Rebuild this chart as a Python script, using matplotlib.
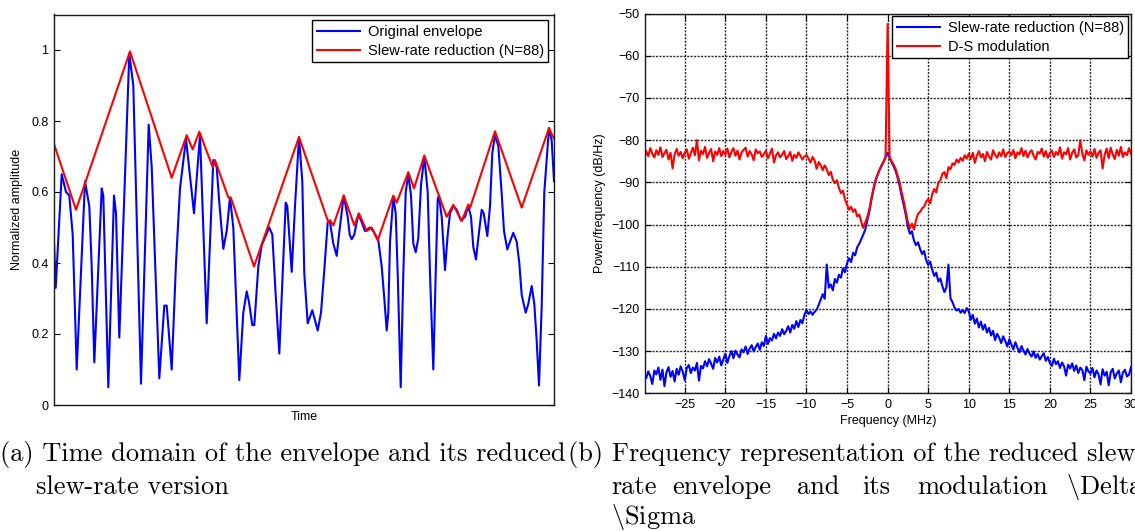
import numpy as np
import matplotlib.pyplot as plt

plt.rcParams['font.family'] = ['Liberation Sans', 'DejaVu Sans']
plt.rcParams['mathtext.fontset'] = 'cm'

# (a) time domain: original envelope and its slew-rate limited version
t_env = [0, 1.7, 7.7, 12, 15.3, 18.7, 22.7, 31, 35.3, 37.7, 40.3, 47.7, 49.3, 54.3,
         60, 62, 65.3, 75.3, 79.3, 87, 94.7, 97.7, 105.3, 110.3, 112.7, 117.7, 122,
         126, 132, 140, 146, 152.7, 159.3, 162.7, 165, 169.3, 172.7, 176, 179.3,
         185.3, 189.3, 192.7, 195, 198.3, 200.3, 204.3, 207.7, 215.3, 218.3, 221.7,
         225.3, 228.7, 231.7, 233.3, 237.7, 241, 245, 248.3, 250.3, 253.7, 258.3,
         263.7, 267, 270.3, 273.7, 275.7, 279.3, 282.7, 285, 289.7, 293.7, 295.7,
         297.7, 300.3, 304.3, 307.7, 311, 316, 319.3, 324.3, 327.7, 330.3, 332.7,
         334.3, 336, 339.3, 341.7, 343.7, 346.7, 349.3, 351.7, 354.3, 357, 359.3,
         361.7, 364.3, 367, 370.3, 373.7, 376, 379.3, 381.7, 383.7, 385, 387.7, 391,
         393.7, 396, 399.3, 402.7, 407, 411, 414.3, 417, 419.3, 422, 424.3, 427.7,
         429.7, 433.3, 436, 438.3, 441, 444.3, 447.7, 450, 453.3, 456, 459.3, 462.7,
         465.3, 467.7, 471.7, 474.3, 477.7, 480.3, 482.7, 485, 487.7, 490.3, 495,
         497.7, 500]
env_orig = [0.46, 0.33, 0.65, 0.60, 0.59, 0.48, 0.10, 0.63, 0.56, 0.39, 0.12, 0.61,
            0.59, 0.05, 0.59, 0.54, 0.19, 0.99, 0.90, 0.06, 0.79, 0.67, 0.075, 0.28,
            0.28, 0.10, 0.40, 0.61, 0.75, 0.54, 0.76, 0.23, 0.69, 0.67, 0.58, 0.44,
            0.49, 0.585, 0.50, 0.07, 0.26, 0.32, 0.29, 0.225, 0.225, 0.39, 0.45, 0.50,
            0.48, 0.31, 0.145, 0.37, 0.57, 0.56, 0.375, 0.56, 0.755, 0.63, 0.37, 0.23,
            0.267, 0.21, 0.26, 0.38, 0.515, 0.52, 0.455, 0.42, 0.48, 0.59, 0.53, 0.48,
            0.467, 0.48, 0.537, 0.515, 0.49, 0.50, 0.49, 0.464, 0.39, 0.30, 0.21,
            0.26, 0.46, 0.585, 0.54, 0.37, 0.05, 0.37, 0.60, 0.65, 0.59, 0.455, 0.43,
            0.47, 0.62, 0.70, 0.60, 0.37, 0.10, 0.37, 0.58, 0.59, 0.53, 0.38, 0.48,
            0.54, 0.56, 0.55, 0.52, 0.53, 0.56, 0.53, 0.445, 0.41, 0.47, 0.55, 0.54,
            0.476, 0.56, 0.71, 0.76, 0.73, 0.595, 0.49, 0.438, 0.46, 0.485, 0.46,
            0.40, 0.31, 0.26, 0.285, 0.335, 0.285, 0.18, 0.055, 0.28, 0.60, 0.78,
            0.745, 0.63]
t_slew = [0, 22, 76, 117.7, 132.7, 138.7, 145.3, 158.7, 161, 174.3, 177, 200, 245,
          274.3, 276.3, 279.3, 289.7, 300.3, 305, 312.7, 317.7, 323.7, 339.3, 342.7,
          354.3, 360, 370.3, 392.7, 399.3, 407.7, 414.3, 416, 441, 467.7, 495, 500]
env_slew = [0.735, 0.55, 0.996, 0.64, 0.76, 0.72, 0.77, 0.67, 0.69, 0.585, 0.583,
            0.39, 0.755, 0.515, 0.52, 0.506, 0.59, 0.506, 0.54, 0.49, 0.50, 0.464,
            0.59, 0.57, 0.656, 0.61, 0.703, 0.53, 0.564, 0.518, 0.565, 0.555, 0.771,
            0.556, 0.78, 0.75]

# (b) power spectral density, one value every 0.25 MHz from -30 to 30 MHz
freq_mhz = np.linspace(-30, 30, 241)
psd_slew = [
    -135.2, -136.4, -134.8, -135.9, -137.8, -134.6, -135.5, -133.9, -136.8, -134.4,
    -138.3, -135.0, -133.8, -136.1, -134.7, -137.2, -134.2, -135.6, -133.6, -134.9,
    -136.9, -134.0, -133.3, -135.2, -133.9, -134.6, -132.8, -137.0, -133.5, -134.1,
    -132.4, -133.6, -131.9, -133.0, -134.2, -131.6, -132.7, -131.3, -133.4, -132.0,
    -130.6, -132.8, -131.2, -130.0, -131.7, -129.9, -130.8, -131.5, -129.6, -130.3,
    -128.9, -130.7, -129.4, -128.6, -130.1, -129.0, -128.2, -129.7, -127.9, -128.8,
    -126.4, -128.3, -126.9, -127.5, -125.9, -127.0, -125.6, -126.4, -124.8, -126.0,
    -125.2, -124.1, -125.6, -123.8, -124.7, -122.9, -124.3, -122.6, -123.4, -121.4,
    -120.3, -121.2, -120.6, -121.4, -120.7, -120.2, -119.1, -117.8, -116.5, -117.6,
    -109.5, -115.0, -114.2, -115.6, -112.9, -113.8, -111.9, -112.6, -110.4, -111.3,
    -109.2, -108.0, -108.9, -106.7, -107.3, -105.4, -104.6, -103.5, -102.4, -101.2,
    -99.0, -97.0, -94.2, -91.8, -89.7, -88.3, -87.1, -86.0, -85.1, -84.0,
    -83.0,
    -84.2, -85.3, -86.2, -87.4, -89.0, -91.0, -93.4, -95.5, -97.8, -100.6,
    -102.2, -101.6, -103.8, -104.9, -104.2, -105.8, -107.0, -106.3, -108.4, -109.6,
    -108.8, -110.7, -112.2, -111.4, -113.5, -112.8, -114.6, -116.0, -114.9, -109.5,
    -117.5, -118.4, -119.7, -120.4, -120.0, -120.9, -120.3, -121.0, -119.8, -120.5,
    -122.6, -121.4, -123.5, -122.3, -124.4, -123.0, -124.9, -123.7, -125.6, -124.5,
    -126.3, -125.2, -127.4, -125.9, -126.8, -128.1, -126.5, -127.6, -128.9, -127.2,
    -128.4, -129.6, -127.9, -129.2, -130.3, -128.8, -129.9, -130.8, -129.5, -130.6,
    -131.3, -130.1, -131.6, -130.7, -132.0, -131.2, -130.5, -132.3, -131.4, -132.8,
    -133.5, -131.8, -133.1, -132.4, -134.0, -132.7, -133.6, -135.8, -133.2, -134.1,
    -132.9, -134.7, -133.4, -135.2, -133.9, -134.5, -136.9, -133.7, -134.8, -135.3,
    -134.0, -136.2, -134.6, -135.5, -137.9, -134.3, -135.8, -134.9, -138.1, -135.0,
    -134.2, -136.5, -135.3, -134.6, -137.4, -135.1, -134.4, -136.0, -135.6, -133.8,
]
psd_ds = [
    -84.5, -82.6, -83.8, -81.9, -83.2, -84.1, -82.4, -83.5, -81.7, -84.0,
    -83.1, -82.3, -84.6, -83.0, -86.7, -83.4, -82.1, -83.7, -82.8, -84.3,
    -83.0, -82.2, -84.4, -83.1, -81.8, -83.6, -80.0, -84.8, -82.5, -83.3,
    -81.6, -84.2, -83.0, -82.1, -85.0, -82.7, -83.5, -81.9, -83.8, -82.6,
    -83.4, -82.0, -84.1, -82.8, -81.9, -83.7, -82.5, -84.6, -83.0, -82.3,
    -81.8, -83.9, -82.6, -83.4, -84.8, -82.2, -83.1, -82.7, -84.0, -83.3,
    -82.5, -84.3, -83.2, -82.0, -85.3, -83.6, -82.9, -84.1, -83.4, -82.6,
    -84.5, -83.8, -82.8, -84.9, -83.5, -84.2, -82.9, -83.7, -84.6, -83.9,
    -83.5, -84.4, -85.3, -84.0, -84.8, -86.8, -85.2, -85.9, -87.1, -86.0,
    -86.9, -88.3, -87.5, -89.4, -90.2, -89.5, -91.3, -92.6, -92.0, -94.1,
    -95.3, -96.5, -95.8, -97.0, -96.4, -98.1, -97.6, -99.3, -100.8, -99.5,
    -98.2, -96.4, -93.8, -91.5, -89.6, -88.2, -87.0, -86.1, -85.2, -84.1,
    -52.5,
    -84.0, -85.0, -85.8, -86.9, -88.5, -90.2, -92.5, -94.6, -97.0, -99.4,
    -100.9, -99.8, -101.2, -99.0, -97.5, -97.0, -96.2, -95.8, -94.6, -94.0,
    -95.0, -92.8, -91.6, -92.4, -90.1, -89.5, -88.0, -87.6, -89.0, -86.4,
    -86.9, -85.5, -85.9, -84.6, -85.3, -84.2, -84.9, -83.6, -84.4, -83.2,
    -84.5, -83.0, -85.4, -83.7, -82.6, -84.1, -83.3, -85.0, -82.8, -83.9,
    -84.6, -82.4, -83.5, -84.2, -82.9, -83.8, -82.2, -84.0, -83.1, -82.7,
    -83.6, -82.3, -84.3, -82.9, -83.4, -81.9, -83.8, -82.5, -84.1, -83.0,
    -82.4, -83.7, -84.6, -82.8, -83.2, -82.0, -83.9, -82.6, -84.2, -83.1,
    -82.5, -84.0, -82.8, -83.5, -81.7, -84.4, -82.9, -83.3, -81.9, -84.6,
    -83.0, -82.2, -84.1, -83.6, -80.0, -83.2, -84.8, -82.4, -83.5, -82.7,
    -83.9, -82.1, -84.2, -83.0, -82.4, -86.7, -83.5, -82.0, -84.3, -81.8,
    -83.4, -84.5, -82.3, -83.7, -81.6, -84.0, -82.9, -83.6, -81.9, -83.2,
]
freq_ticks = [-25, -20, -15, -10, -5, 0, 5, 10, 15, 20, 25, 30]

fig = plt.figure(figsize=(11.35, 5.31), dpi=100)
W, H = 1135.0, 531.0

# left panel
ax1 = fig.add_axes([54 / W, 1 - 405 / H, 500 / W, 390.5 / H])
ax1.plot(t_env, env_orig, color='#0000ff', lw=1.5, label='Original envelope')
ax1.plot(t_slew, env_slew, color='#ff0000', lw=1.5,
         label='Slew-rate reduction (N=88)')
ax1.set_xlim(0, 500)
ax1.set_ylim(0, 1.1)
ax1.set_yticks([0, 0.2, 0.4, 0.6, 0.8, 1])
ax1.set_yticklabels(['0', '0.2', '0.4', '0.6', '0.8', '1'])
ax1.set_xticks([])
ax1.tick_params(axis='y', direction='in', right=True, length=4, labelsize=9, pad=4)
ax1.set_xlabel('Time', fontsize=9, labelpad=4)
ax1.set_ylabel('Normalized amplitude', fontsize=9, labelpad=6)
for s in ax1.spines.values():
    s.set_linewidth(1.0)
    s.set_color('0.1')
leg1 = ax1.legend(loc='upper right', fontsize=10.5, frameon=True, fancybox=False,
                  edgecolor='k', framealpha=1, handlelength=3.0,
                  borderaxespad=0.4, borderpad=0.3, labelspacing=0.35,
                  handletextpad=0.5)
leg1.get_frame().set_linewidth(1.0)

# right panel
ax2 = fig.add_axes([645 / W, 1 - 393.3 / H, 486 / W, 379.8 / H])
ax2.plot(freq_mhz, psd_slew, color='#0000ff', lw=1.5,
         label='Slew-rate reduction (N=88)')
ax2.plot(freq_mhz, psd_ds, color='#ff0000', lw=1.5, label='D-S modulation')
ax2.set_xlim(-29.9, 30)
ax2.set_ylim(-140, -50)
ax2.set_xticks(freq_ticks)
ax2.set_yticks(np.arange(-140, -49, 10))
ax2.tick_params(direction='in', top=True, right=True, length=4, labelsize=9, pad=4)
ax2.grid(True, color='k', linestyle=(0, (1.5, 1)), linewidth=1.0, alpha=0.85)
ax2.set_axisbelow(True)
ax2.set_xlabel('Frequency (MHz)', fontsize=9, labelpad=3)
ax2.set_ylabel('Power/frequency (dB/Hz)', fontsize=9, labelpad=4)
for s in ax2.spines.values():
    s.set_linewidth(1.0)
    s.set_color('0.1')
leg2 = ax2.legend(loc='upper right', fontsize=10.5, frameon=True, fancybox=False,
                  edgecolor='k', framealpha=1, handlelength=3.0,
                  borderaxespad=0.2, borderpad=0.3, labelspacing=0.35,
                  handletextpad=0.5)
leg2.get_frame().set_linewidth(1.0)

# captions
cap = dict(fontfamily='cmr10', fontsize=19, va='center', ha='left')
fig.text(0 / W, 1 - 455 / H, '(a) Time domain of the envelope and its reduced', **cap)
fig.text(36 / W, 1 - 487 / H, 'slew-rate version', **cap)
fig.text(568 / W, 1 - 455 / H, '(b) Frequency representation of the reduced slew', **cap)
words = ['rate', 'envelope', 'and', 'its', 'modulation', r'$\backslash$Delta']
word_x = [611, 672, 797, 862, 917, 1066]
for w, x in zip(words, word_x):
    fig.text(x / W, 1 - 487 / H, w, **cap)
fig.text(611 / W, 1 - 517 / H, r'$\backslash$Sigma', **cap)

fig.savefig('out.png', dpi=100)
